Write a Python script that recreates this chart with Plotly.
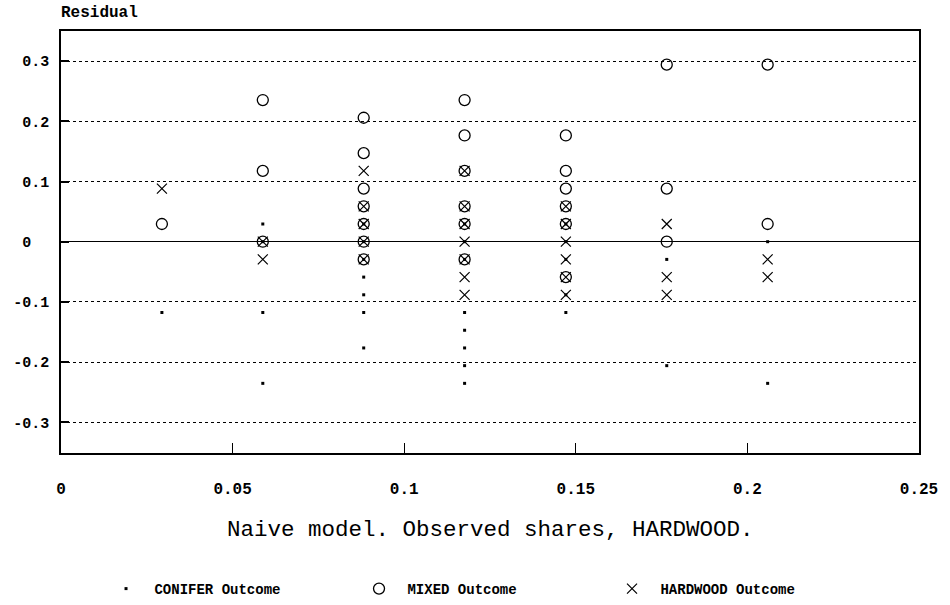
import plotly.graph_objects as go

# Observed HARDWOOD shares (columns) and residuals
conifer_x = [0.0294,
             0.0588, 0.0588, 0.0588, 0.0588,
             0.0882, 0.0882, 0.0882, 0.0882, 0.0882, 0.0882, 0.0882,
             0.1176, 0.1176, 0.1176, 0.1176, 0.1176, 0.1176, 0.1176, 0.1176,
             0.1471, 0.1471, 0.1471, 0.1471, 0.1471,
             0.1765, 0.1765,
             0.2059, 0.2059]
conifer_y = [-0.1176,
             0.0294, 0.0, -0.1176, -0.2353,
             0.0294, 0.0, -0.0294, -0.0588, -0.0882, -0.1176, -0.1765,
             0.0294, 0.0, -0.0294, -0.1176, -0.1471, -0.1765, -0.2059, -0.2353,
             0.0294, 0.0, -0.0294, -0.0882, -0.1176,
             -0.0294, -0.2059,
             0.0, -0.2353]

mixed_x = [0.0294,
           0.0588, 0.0588, 0.0588,
           0.0882, 0.0882, 0.0882, 0.0882, 0.0882, 0.0882, 0.0882,
           0.1176, 0.1176, 0.1176, 0.1176, 0.1176, 0.1176,
           0.1471, 0.1471, 0.1471, 0.1471, 0.1471, 0.1471,
           0.1765, 0.1765, 0.1765,
           0.2059, 0.2059]
mixed_y = [0.0294,
           0.2353, 0.1176, 0.0,
           0.2059, 0.1471, 0.0882, 0.0588, 0.0294, 0.0, -0.0294,
           0.2353, 0.1765, 0.1176, 0.0588, 0.0294, -0.0294,
           0.1765, 0.1176, 0.0882, 0.0588, 0.0294, -0.0588,
           0.2941, 0.0882, 0.0,
           0.2941, 0.0294]

hardwood_x = [0.0294,
              0.0588, 0.0588,
              0.0882, 0.0882, 0.0882, 0.0882, 0.0882,
              0.1176, 0.1176, 0.1176, 0.1176, 0.1176, 0.1176, 0.1176,
              0.1471, 0.1471, 0.1471, 0.1471, 0.1471, 0.1471,
              0.1765, 0.1765, 0.1765,
              0.2059, 0.2059]
hardwood_y = [0.0882,
              0.0, -0.0294,
              0.1176, 0.0588, 0.0294, 0.0, -0.0294,
              0.1176, 0.0588, 0.0294, 0.0, -0.0294, -0.0588, -0.0882,
              0.0588, 0.0294, 0.0, -0.0294, -0.0588, -0.0882,
              0.0294, -0.0588, -0.0882,
              -0.0294, -0.0588]

x_ticks = [0, 0.05, 0.1, 0.15, 0.2, 0.25]
x_tick_labels = ["0", "0.05", "0.1", "0.15", "0.2", "0.25"]
y_ticks = [-0.3, -0.2, -0.1, 0, 0.1, 0.2, 0.3]
y_tick_labels = ["-0.3", "-0.2", "-0.1", "0\u00a0\u00a0", "0.1", "0.2", "0.3"]

MONO = "Liberation Mono, Courier New, monospace"

fig = go.Figure()
fig.add_trace(go.Scatter(
    x=conifer_x, y=conifer_y, mode="markers",
    name="\u00a0<b>CONIFER Outcome</b>",
    marker=dict(symbol="square", size=3, color="black", line=dict(width=0)),
))
fig.add_trace(go.Scatter(
    x=mixed_x, y=mixed_y, mode="markers",
    name="\u00a0<b>MIXED Outcome</b>",
    marker=dict(symbol="circle-open", size=11, color="black", line=dict(width=1.3)),
))
fig.add_trace(go.Scatter(
    x=hardwood_x, y=hardwood_y, mode="markers",
    name="\u00a0<b>HARDWOOD Outcome</b>",
    marker=dict(symbol="x-thin-open", size=10, color="black", line=dict(width=1.2)),
))

fig.update_layout(
    width=950, height=605,
    margin=dict(l=61, r=26, t=31, b=152),
    paper_bgcolor="white", plot_bgcolor="white",
    showlegend=True,
    legend=dict(
        orientation="h", xref="container", yref="container",
        x=0.1116, y=1 - 589 / 605, xanchor="left", yanchor="middle",
        font=dict(family=MONO, size=14, color="black"),
        entrywidth=208, entrywidthmode="pixels",
        itemsizing="trace", bgcolor="rgba(0,0,0,0)",
    ),
    xaxis=dict(
        range=[0, 0.25], tickvals=x_ticks, ticktext=x_tick_labels,
        showline=True, mirror=True, linecolor="black", linewidth=1.5,
        ticks="inside", ticklen=10, tickcolor="black", tickwidth=1,
        showgrid=False, zeroline=False,
        tickfont=dict(family=MONO, size=16, color="black", weight="bold"),
        ticklabelstandoff=20,
    ),
    yaxis=dict(
        range=[-0.351, 0.35], tickvals=y_ticks, ticktext=y_tick_labels,
        showline=True, mirror=True, linecolor="black", linewidth=1.5,
        ticks="inside", ticklen=8, tickcolor="black", tickwidth=1.5,
        showgrid=True, gridcolor="black", griddash="dot", gridwidth=1,
        zeroline=True, zerolinecolor="black", zerolinewidth=1.2,
        tickfont=dict(family=MONO, size=15, color="black", weight="bold"),
        ticklabelstandoff=7,
    ),
    annotations=[
        dict(text="<b>Residual</b>", xref="paper", yref="paper", x=0, y=1,
             xanchor="left", yanchor="bottom", yshift=7, xshift=-2,
             showarrow=False,
             font=dict(family=MONO, size=16, color="black")),
        dict(text="Naive model. Observed shares, HARDWOOD.", xref="paper",
             yref="paper", x=0.5, y=(453 - 530) / 422, xanchor="center",
             yanchor="middle", showarrow=False,
             font=dict(family=MONO, size=22.5, color="black")),
    ],
)

fig.write_html("out.html")
